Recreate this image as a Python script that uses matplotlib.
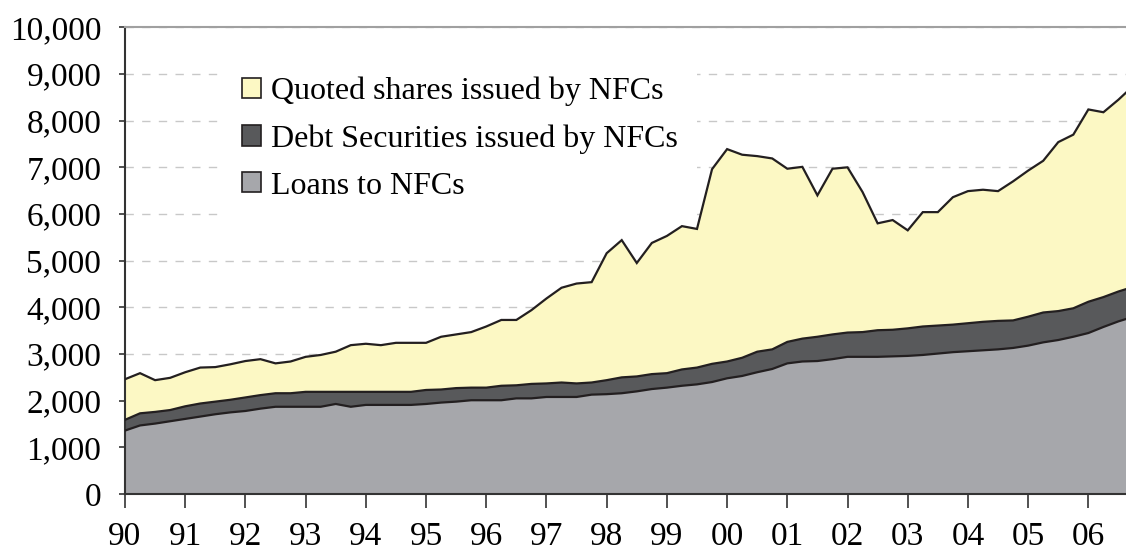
import numpy as np
import matplotlib
matplotlib.use("Agg")
import matplotlib.pyplot as plt
from matplotlib.patches import Patch

# quarterly data, 1990Q1 onwards (EUR bn)
years = ['90', '91', '92', '93', '94', '95', '96', '97', '98',
         '99', '00', '01', '02', '03', '04', '05', '06']

loans = [1360, 1470, 1510, 1560, 1610, 1660, 1710, 1750, 1780, 1830,
         1870, 1870, 1870, 1870, 1930, 1870, 1910, 1910, 1910, 1910,
         1930, 1960, 1980, 2010, 2010, 2010, 2050, 2050, 2080, 2080,
         2080, 2130, 2140, 2160, 2200, 2250, 2280, 2320, 2350, 2400,
         2480, 2530, 2610, 2680, 2800, 2840, 2850, 2890, 2940, 2940,
         2940, 2950, 2960, 2980, 3010, 3040, 3060, 3080, 3100, 3130,
         3180, 3250, 3300, 3370, 3450, 3580, 3700, 3800]

debt = [230, 260, 250, 240, 270, 280, 270, 270, 290, 290,
        290, 290, 320, 320, 260, 320, 280, 280, 280, 280,
        300, 280, 290, 270, 270, 310, 280, 310, 290, 310,
        290, 260, 300, 340, 320, 320, 310, 350, 360, 390,
        360, 390, 440, 420, 460, 490, 520, 530, 520, 530,
        570, 570, 590, 610, 600, 590, 600, 610, 610, 590,
        620, 640, 620, 610, 670, 640, 640, 640]

shares = [870, 860, 680, 690, 730, 770, 740, 760, 780, 770,
          640, 680, 750, 790, 860, 1000, 1030, 1000, 1050, 1050,
          1010, 1130, 1150, 1190, 1310, 1410, 1400, 1580, 1820, 2030,
          2140, 2150, 2720, 2940, 2430, 2810, 2940, 3070, 2970, 4170,
          4550, 4350, 4190, 4090, 3710, 3680, 3030, 3550, 3540, 3000,
          2290, 2350, 2100, 2450, 2430, 2730, 2830, 2830, 2780, 2980,
          3130, 3250, 3620, 3720, 4120, 3960, 4110, 4310]

labels = ['Quoted shares issued by NFCs',
          'Debt Securities issued by NFCs',
          'Loans to NFCs']
colors = ['#FCF8C4', '#58595B', '#A6A7AB']
edge = '#231F20'

plt.rcParams['font.family'] = ['Liberation Serif', 'DejaVu Serif']

fig = plt.figure(figsize=(11.26, 5.57), dpi=100)
ax = fig.add_axes([0.111, 0.113, 0.889, 0.838])

x = np.arange(len(loans))
ax.stackplot(x, loans, debt, shares,
             colors=[colors[2], colors[1], colors[0]],
             edgecolor='none', zorder=2)
tops = np.cumsum([loans, debt, shares], axis=0)
for t in tops:
    ax.plot(x, t, color=edge, lw=1.6, zorder=3, solid_joinstyle='miter')

ax.set_xlim(0, 66.5)
ax.set_ylim(0, 10000)
ax.set_yticks(range(0, 10001, 1000))
ax.set_yticklabels([f'{v:,}' for v in range(0, 10001, 1000)])
ax.set_xticks(range(0, 4 * len(years), 4))
ax.set_xticklabels(years)

ax.yaxis.grid(True, color='#C8C8C8', linestyle=(0, (6, 6)), lw=1.0)
ax.set_axisbelow(True)

for side in ['left', 'bottom']:
    ax.spines[side].set_color('#333333')
    ax.spines[side].set_linewidth(1.5)
ax.spines['top'].set_color('#A0A0A0')
ax.spines['top'].set_linewidth(1.5)
ax.spines['right'].set_visible(False)

ax.tick_params(axis='y', direction='out', length=4, width=1.2,
               color='#333333', labelsize=24, pad=13)
ax.tick_params(axis='x', direction='out', length=10, width=1.2,
               color='#333333', labelsize=24, pad=10)

handles = [Patch(facecolor=c, edgecolor=edge, lw=1.2) for c in colors]
leg = ax.legend(handles, labels, loc='upper left',
                bbox_to_anchor=(0.098, 0.935), fontsize=23,
                frameon=True, facecolor='white', edgecolor='none',
                framealpha=1.0, fancybox=False,
                handlelength=0.6, handleheight=0.6, handletextpad=0.3,
                labelspacing=0.56, borderpad=0.6, borderaxespad=0)
leg.set_zorder(1)

fig.savefig('out.png', dpi=100)
